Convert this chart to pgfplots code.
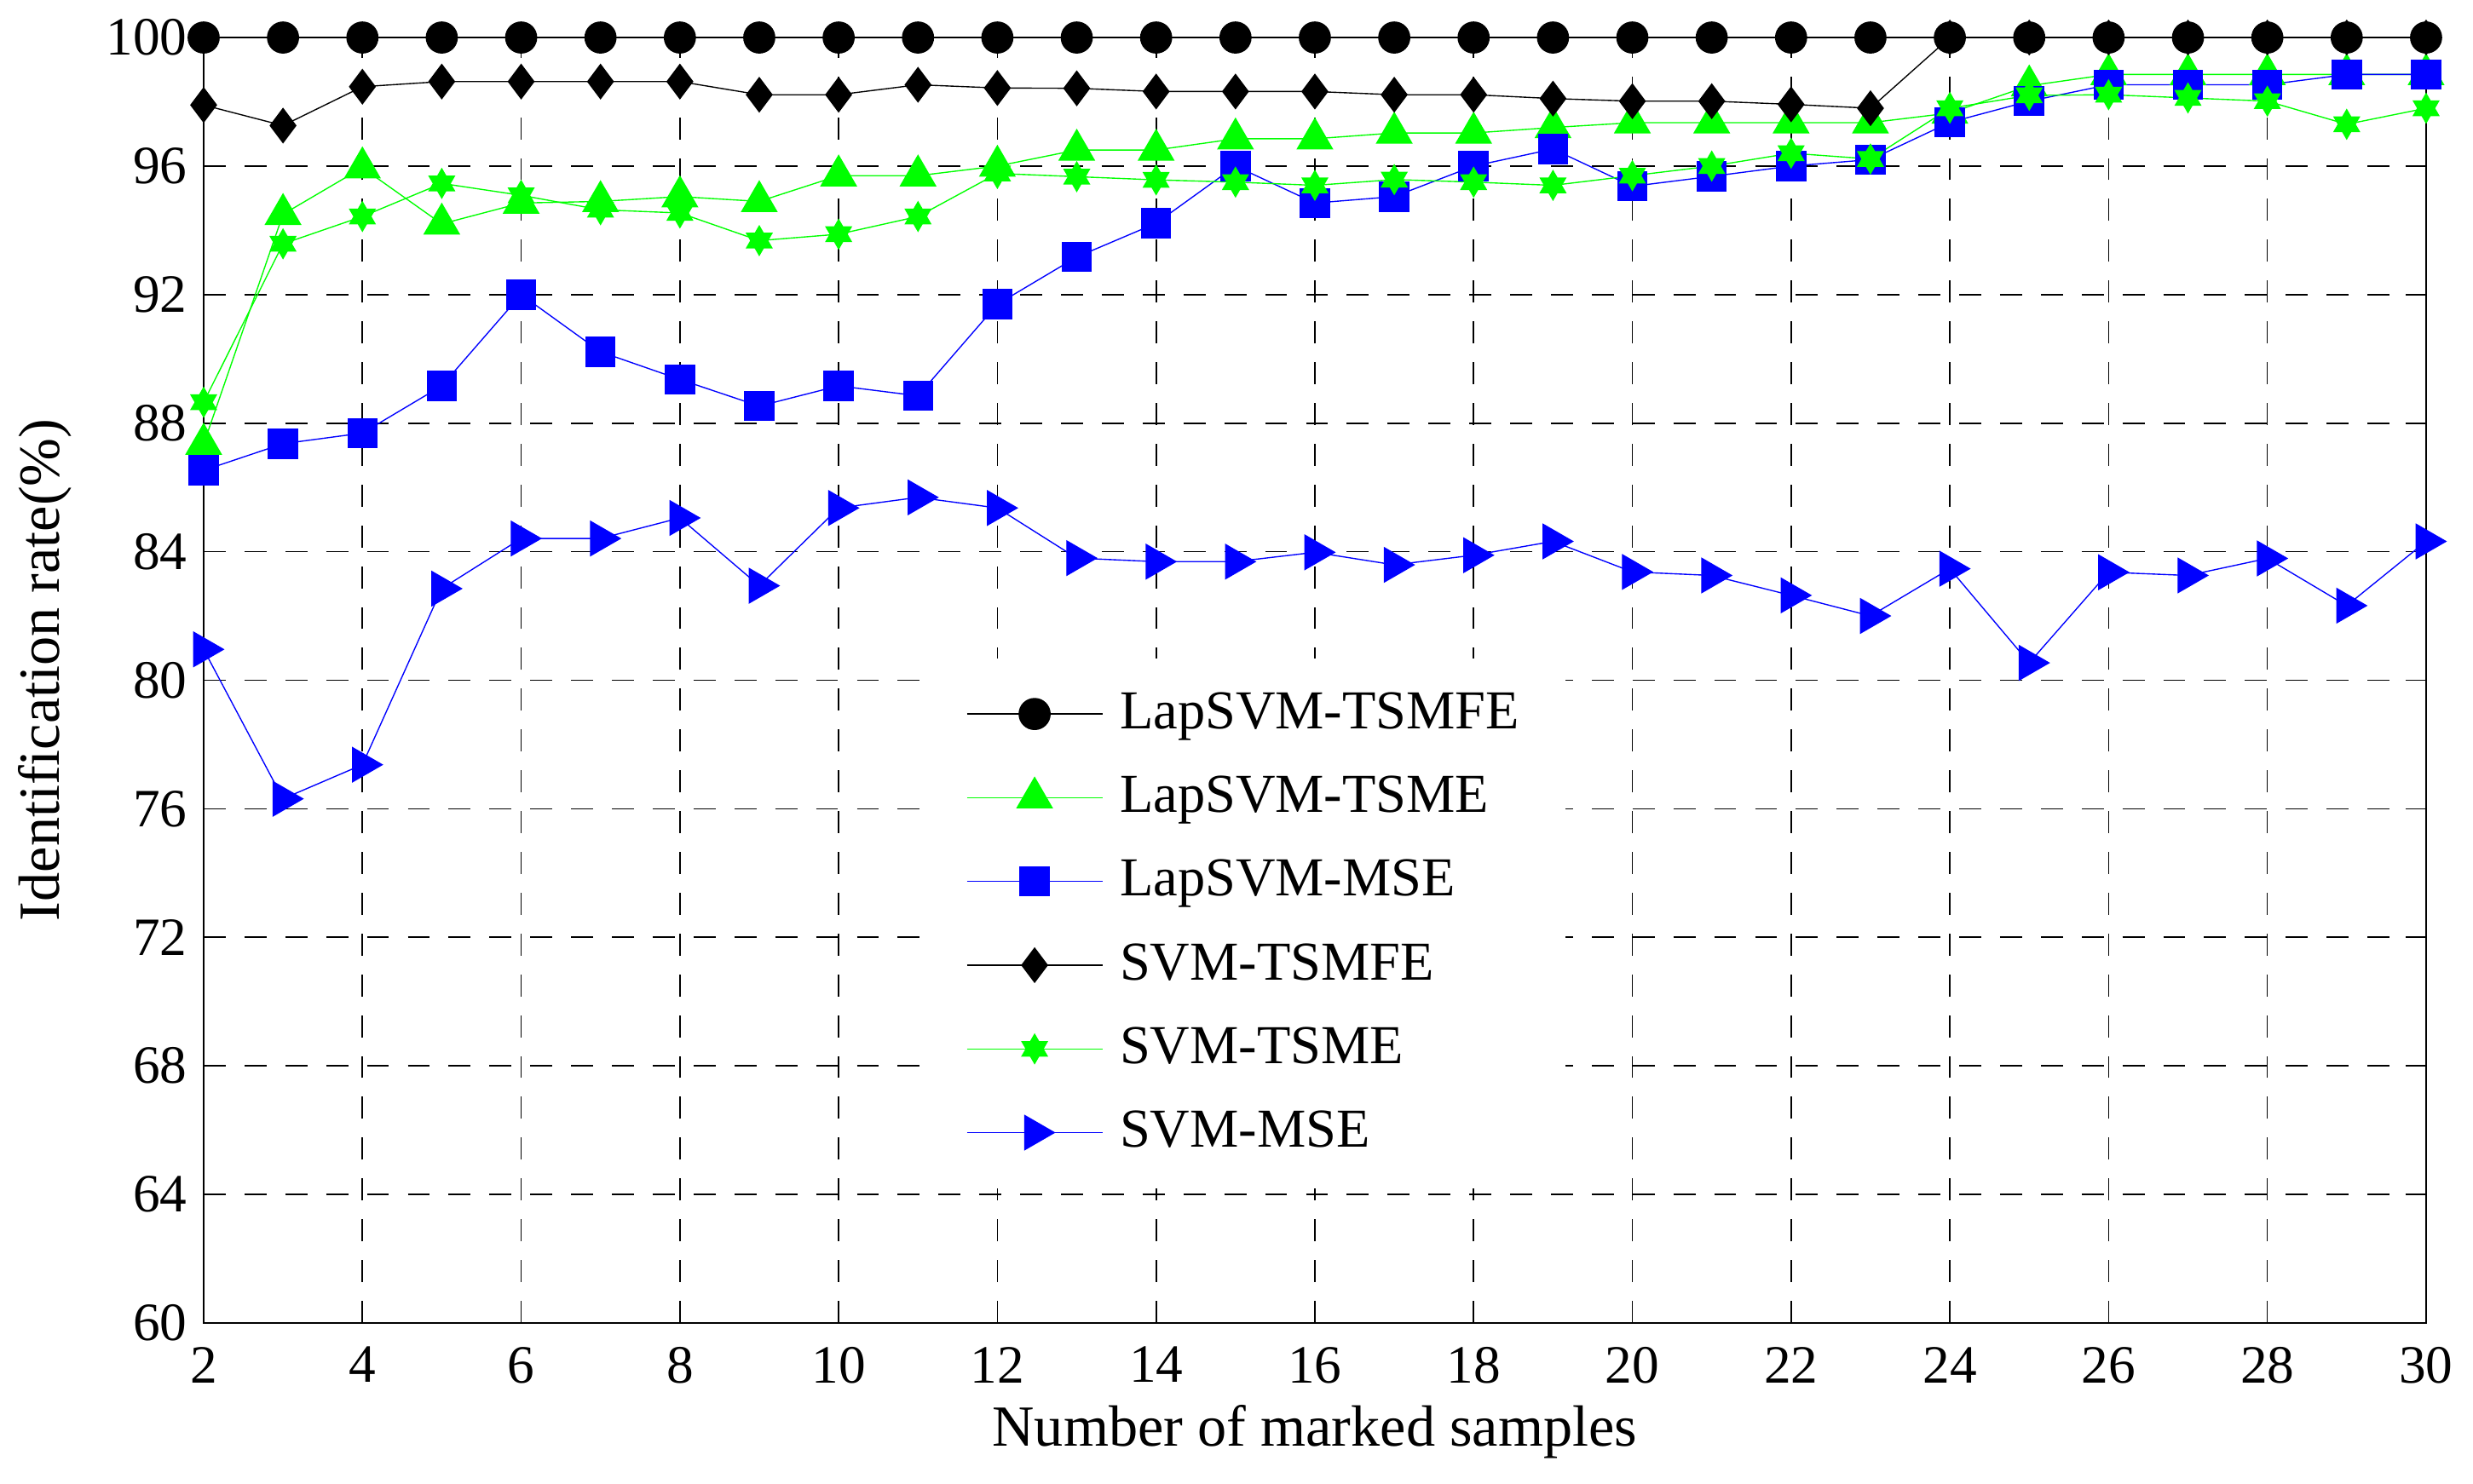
\documentclass[border=0pt]{standalone}
\usepackage{fontspec}
\setmainfont{Liberation Serif}
\usepackage{pgfplots}
\pgfplotsset{compat=1.18}

\pgfdeclareplotmark{hexagram*}{%
  \pgfpathmoveto{\pgfqpointpolar{90}{\pgfplotmarksize}}%
  \pgfpathlineto{\pgfqpointpolar{210}{\pgfplotmarksize}}%
  \pgfpathlineto{\pgfqpointpolar{330}{\pgfplotmarksize}}%
  \pgfpathclose
  \pgfpathmoveto{\pgfqpointpolar{270}{\pgfplotmarksize}}%
  \pgfpathlineto{\pgfqpointpolar{390}{\pgfplotmarksize}}%
  \pgfpathlineto{\pgfqpointpolar{510}{\pgfplotmarksize}}%
  \pgfpathclose
  \pgfusepathqfillstroke}

\begin{document}
\begin{tikzpicture}
\begin{axis}[
  at={(0pt,0pt)}, anchor=south west,
  scale only axis, width=473.6pt, height=274pt,
  xmin=2, xmax=30, ymin=60, ymax=100,
  xtick={2,4,...,30}, ytick={60,64,...,100},
  grid=major,
  major grid style={black, line width=0.3pt, dash pattern=on 4.7pt off 4pt},
  axis line style={black, line width=0.4pt},
  tick style={black, line width=0.3pt},
  major tick length=4.4pt,
  tick align=inside,
  /pgf/number format/assume math mode=true,
  ticklabel style={font=\fontsize{11.5}{13}\selectfont},
  xticklabel style={yshift=-1.6pt},
  label style={font=\fontsize{12.4}{14}\selectfont},
  xlabel={Number of marked samples},
  ylabel={Identification rate(\%)},
  xlabel style={at={(axis description cs:0.5,-0.096)}, anchor=base},
  ylabel style={at={(axis description cs:-0.0648,0.508)}, anchor=base},
  clip=false,
  legend style={at={(axis description cs:0.322,0.5176)}, anchor=north west,
    draw=none, fill=white, font=\fontsize{11.7}{13}\selectfont,
    inner xsep=9.8pt, inner ysep=7.2pt, row sep=8.6pt, column sep=3.6pt,
    nodes={inner sep=0pt}},
  legend cell align=left,
  legend image code/.code={\draw[mark repeat=2,mark phase=2,#1] plot coordinates {(0pt,0pt) (14.45pt,0pt) (28.9pt,0pt)};},
  every axis plot/.append style={line width=0.25pt},
]
\addplot[black, mark=*, mark size=3.3pt, mark options={solid, fill=black}] coordinates {
(2,100)(3,100)(4,100)(5,100)(6,100)(7,100)(8,100)(9,100)(10,100)(11,100)
(12,100)(13,100)(14,100)(15,100)(16,100)(17,100)(18,100)(19,100)(20,100)(21,100)
(22,100)(23,100)(24,100)(25,100)(26,100)(27,100)(28,100)(29,100)(30,100)};
\addlegendentry{LapSVM-TSMFE}
\addplot[green, mark=triangle*, mark size=4.3pt, mark options={solid, fill=green}] coordinates {
(2,87.35)(3,94.5)(4,95.95)(5,94.2)(6,94.85)(7,94.9)(8,95.05)(9,94.9)(10,95.7)(11,95.7)
(12,96.0)(13,96.5)(14,96.5)(15,96.85)(16,96.85)(17,97.03)(18,97.03)(19,97.2)(20,97.35)(21,97.35)
(22,97.35)(23,97.35)(24,97.65)(25,98.5)(26,98.85)(27,98.85)(28,98.85)(29,98.85)(30,98.85)};
\addlegendentry{LapSVM-TSME}
\addplot[blue, mark=square*, mark size=3.1pt, mark options={solid, fill=blue}] coordinates {
(2,86.53)(3,87.36)(4,87.69)(5,89.16)(6,92.0)(7,90.22)(8,89.36)(9,88.53)(10,89.16)(11,88.85)
(12,91.7)(13,93.17)(14,94.22)(15,96.0)(16,94.85)(17,95.05)(18,96.0)(19,96.53)(20,95.37)(21,95.68)
(22,96.0)(23,96.2)(24,97.36)(25,98.02)(26,98.53)(27,98.53)(28,98.53)(29,98.85)(30,98.85)};
\addlegendentry{LapSVM-MSE}
\addplot[black, mark=diamond*, mark size=3.63pt, mark options={solid, fill=black}] coordinates {
(2,97.9)(3,97.26)(4,98.47)(5,98.63)(6,98.63)(7,98.63)(8,98.63)(9,98.22)(10,98.22)(11,98.53)
(12,98.43)(13,98.42)(14,98.32)(15,98.32)(16,98.32)(17,98.22)(18,98.22)(19,98.1)(20,98.02)(21,98.02)
(22,97.92)(23,97.8)(24,100)(25,100)(26,100)(27,100)(28,100)(29,100)(30,100)};
\addlegendentry{SVM-TSMFE}
\addplot[green, mark=hexagram*, mark size=3.1pt, mark options={solid, fill=green}] coordinates {
(2,88.65)(3,93.58)(4,94.43)(5,95.46)(6,95.09)(7,94.64)(8,94.54)(9,93.68)(10,93.88)(11,94.43)
(12,95.77)(13,95.67)(14,95.57)(15,95.5)(16,95.4)(17,95.58)(18,95.5)(19,95.4)(20,95.7)(21,96.0)
(22,96.4)(23,96.22)(24,97.8)(25,98.2)(26,98.22)(27,98.12)(28,98.02)(29,97.3)(30,97.8)};
\addlegendentry{SVM-TSME}
\addplot[blue, mark=triangle*, mark size=4.2pt, mark options={solid, fill=blue, rotate=-90}] coordinates {
(2,80.96)(3,76.31)(4,77.37)(5,82.85)(6,84.41)(7,84.41)(8,85.05)(9,82.94)(10,85.36)(11,85.69)
(12,85.36)(13,83.8)(14,83.69)(15,83.69)(16,83.98)(17,83.59)(18,83.89)(19,84.32)(20,83.37)(21,83.26)
(22,82.64)(23,82.0)(24,83.47)(25,80.54)(26,83.36)(27,83.26)(28,83.79)(29,82.32)(30,84.32)};
\addlegendentry{SVM-MSE}
\end{axis}
\pgfresetboundingbox
\path[use as bounding box] (-43.4pt,-34.3pt) rectangle (483.6pt,282pt);
\end{tikzpicture}
\end{document}
